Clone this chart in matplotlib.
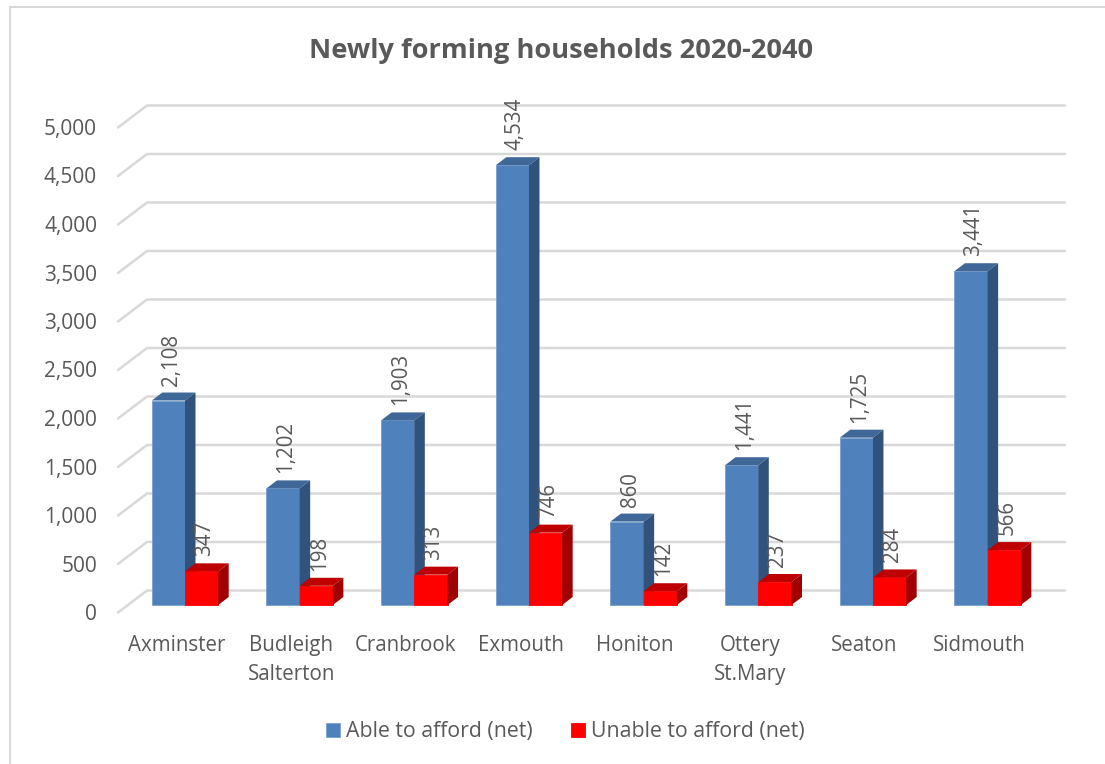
import matplotlib
matplotlib.use("Agg")
import matplotlib.pyplot as plt
from matplotlib.patches import Polygon

towns = ["Axminster", "Budleigh\nSalterton", "Cranbrook", "Exmouth", "Honiton",
         "Ottery\nSt.Mary", "Seaton", "Sidmouth"]
able = [2108, 1202, 1903, 4534, 860, 1441, 1725, 3441]
unable = [347, 198, 313, 746, 142, 237, 284, 566]
y_ticks = list(range(0, 5001, 500))
series_names = ["Able to afford (net)", "Unable to afford (net)"]
title = "Newly forming households 2020-2040"

W, H = 1105, 764
X0, XS = 185.0, 114.66      # pixel of category 0 and pixels per category
Y0, YS = 605.0, 0.097       # pixel of value 0 and pixels per unit

plt.rcParams["font.family"] = ["Open Sans", "DejaVu Sans"]
TXT = "#595959"
FS = 14.8

fig = plt.figure(figsize=(W / 100, H / 100), dpi=100)
ax = fig.add_axes([0, 0, 1, 1])
ax.set_xlim((0 - X0) / XS, (W - X0) / XS)
ax.set_ylim((Y0 - H) / YS, Y0 / YS)
ax.axis("off")

def dx(px):
    return px / XS
def dy(px):
    return px / YS

# chart frame (left and top edges are the visible ones)
fig.add_artist(plt.Line2D([9.5 / W, 9.5 / W, 1], [0, 1 - 6.5 / H, 1 - 6.5 / H],
                          color="#D9D9D9", lw=1.5, solid_joinstyle="miter"))

# walls: gridlines in depth
for v in y_ticks:
    xf, xb, xe = dx(118 - X0), dx(147 - X0), dx(1065 - X0)
    yf = v + dy(-7.5)
    yb = v + dy(14.5)
    ax.plot([xf, xb, xe], [yf, yb, yb], color="#D9D9D9", lw=1.8,
            solid_capstyle="round", solid_joinstyle="miter", zorder=1)
    ax.text(dx(97 - X0), yf + dy(-2), f"{v:,}", ha="right", va="center",
            fontsize=FS + 0.2, color=TXT, zorder=6)

W_BAR = 33.2 / XS
DX, DY = dx(10.5), dy(8)

def draw(positions, values, front, top, side, edge, z, name):
    bars = ax.bar(positions, values, width=W_BAR, color=front, edgecolor=edge,
                  linewidth=0.6, zorder=z, label=name)
    for x, v in zip(positions, values):
        l, r = x - W_BAR / 2, x + W_BAR / 2
        ax.add_patch(Polygon([(l, v), (r, v), (r + DX, v + DY), (l + DX, v + DY)],
                             closed=True, fc=top, ec="none", zorder=z))
        ax.add_patch(Polygon([(r, 0), (r + DX, DY), (r + DX, v + DY), (r, v)],
                             closed=True, fc=side, ec="none", zorder=z))
        ax.text(x + dx(3), v + dy(15), f"{v:,}", rotation=90, ha="center", va="bottom",
                fontsize=FS, color=TXT, zorder=7)
    return bars

idx = list(range(len(towns)))
h1 = draw([i - W_BAR / 2 for i in idx], able, "#4F81BD", "#3F6797", "#31527A", "#7BA0CD", 3, series_names[0])
h2 = draw([i + W_BAR / 2 for i in idx], unable, "#FF0000", "#BE0000", "#A00000", "#FF0000", 4, series_names[1])

for i, t in enumerate(towns):
    ax.text(i - dx(8.5), dy(-30), t, ha="center", va="top", fontsize=FS, color=TXT,
            linespacing=1.5, zorder=6)

ax.text(dx(561 - X0), (Y0 - 51) / YS, title, ha="center", va="center",
        fontsize=19.6, fontweight="bold", color=TXT)

leg = ax.legend(handles=[h1, h2], loc="center", ncols=2, frameon=False,
                bbox_to_anchor=(565.5 / W, 1 - 732 / H), fontsize=15.3,
                handlelength=0.66, handleheight=0.66, handletextpad=0.28,
                columnspacing=1.79, labelcolor=TXT)
fig.savefig("out.png", dpi=100)
